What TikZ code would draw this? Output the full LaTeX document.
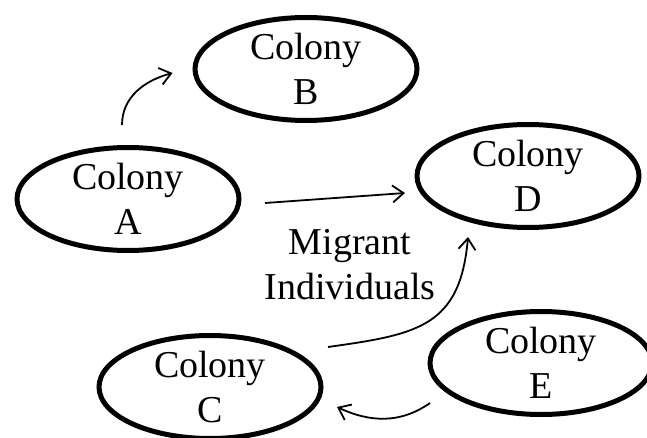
\documentclass[tikz,border=0pt]{standalone}
\usepackage{fontspec}
\setmainfont{Liberation Serif}
\usetikzlibrary{arrows.meta,shapes.geometric}
\tikzset{
  colony/.style={draw, ellipse, line width=5pt, minimum width=222pt, minimum height=103pt,
    inner sep=0pt, align=center, font=\fontsize{38}{45}\selectfont},
  migr/.style={line width=1.8pt, -{Straight Barb[length=11pt,width=17pt]}}
}
\begin{document}
\begin{tikzpicture}[x=1pt,y=1pt]
      \useasboundingbox (0,0) rectangle (647,437);
      \foreach \n/\x/\y in {A/128/238, B/306/368, C/210/50, D/528/261, E/541/74}{
        \node[colony](\n) at (\x,\y){Colony\\\n};
      }
      \node[align=center, font=\fontsize{38}{45}\selectfont](mig) at (350,172){Migrant\\Individuals};
      \draw[migr]([shift={(-6,20)}]A.north) to[out=90,in=195] ([shift={(-20,-4)}]B.west);
      \draw[migr]([shift={(137,-4)}]A.center) -- ([shift={(-123,-17)}]D.center);
      \draw[migr]([shift={(118,40)}]C.center) to[out=8,in=-95,looseness=1.3] ([shift={(-60,-61)}]D.center);
      \draw[migr]([shift={(-111,-40)}]E.center) to[out=215,in=-25] ([shift={(127,-20)}]C.center);
\end{tikzpicture}
\end{document}
